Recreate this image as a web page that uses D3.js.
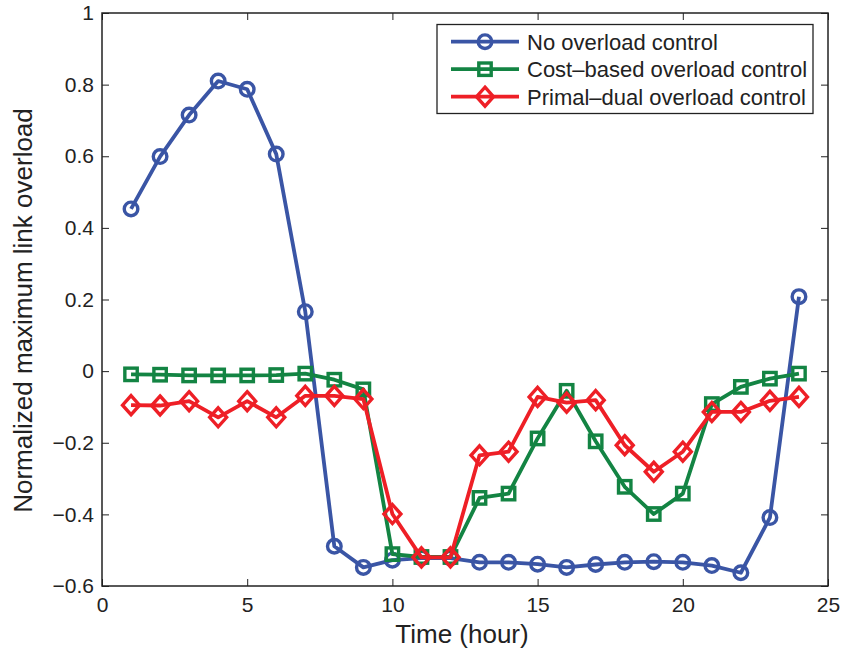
<!DOCTYPE html>
<html><head><meta charset="utf-8">
<script src="https://cdn.jsdelivr.net/npm/d3@7"></script>
<style>body{margin:0;background:#fff}text{font-family:"Liberation Sans",Arial,Helvetica,sans-serif;fill:#222}</style>
</head><body><svg id="c" width="844" height="652"></svg>
<script>
const hours = d3.range(1, 25);
const noControl = [0.453,0.599,0.715,0.810,0.787,0.606,0.166,-0.489,-0.548,-0.528,-0.522,-0.522,-0.534,-0.534,-0.539,-0.548,-0.540,-0.534,-0.532,-0.534,-0.543,-0.563,-0.409,0.208];
const costBased = [-0.009,-0.010,-0.012,-0.012,-0.012,-0.011,-0.007,-0.024,-0.051,-0.511,-0.519,-0.519,-0.354,-0.342,-0.188,-0.055,-0.196,-0.323,-0.399,-0.342,-0.092,-0.044,-0.021,-0.007];
const primalDual = [-0.095,-0.096,-0.084,-0.129,-0.084,-0.129,-0.069,-0.069,-0.078,-0.399,-0.520,-0.520,-0.235,-0.225,-0.072,-0.088,-0.081,-0.207,-0.281,-0.225,-0.114,-0.114,-0.083,-0.072];
const seriesNames = ["No overload control","Cost\u2013based overload control","Primal\u2013dual overload control"];
const xTicks = [0,5,10,15,20,25];
const yTicks = [-0.6,-0.4,-0.2,0,0.2,0.4,0.6,0.8,1];

const colors = ["#3a55a5","#138443","#ee1f26"];
const markers = ["circle","square","diamond"];
const svg = d3.select("#c");
const L=102,R=828,T=13,B=586;
const x = d3.scaleLinear().domain([0,25]).range([L,R]);
const y = d3.scaleLinear().domain([-0.6,1]).range([B,T]);

const fmt = d => d===0?"0":(d===1?"1":d3.format(".1f")(d).replace("-","\u2212"));
const tl = 7;
svg.append("g").attr("transform",`translate(0,${B})`).call(d3.axisBottom(x).tickValues(xTicks).tickSize(-tl).tickPadding(11).tickFormat(d3.format("d")))
  .call(g=>{g.select(".domain").remove();g.selectAll("text").attr("font-size",21).style("fill","#222");});
svg.append("g").attr("transform",`translate(0,${T})`).call(d3.axisTop(x).tickValues(xTicks).tickSize(-tl).tickFormat(""))
  .call(g=>g.select(".domain").remove());
svg.append("g").attr("transform",`translate(${L},0)`).call(d3.axisLeft(y).tickValues(yTicks).tickSize(-tl).tickPadding(8).tickFormat(fmt))
  .call(g=>{g.select(".domain").remove();g.selectAll("text").attr("font-size",21).style("fill","#222");});
svg.append("g").attr("transform",`translate(${R},0)`).call(d3.axisRight(y).tickValues(yTicks).tickSize(-tl).tickFormat(""))
  .call(g=>g.select(".domain").remove());
svg.selectAll(".tick line").attr("stroke","#222").attr("stroke-width",1);
svg.append("rect").attr("x",L).attr("y",T).attr("width",R-L).attr("height",B-T).attr("fill","none").attr("stroke","#222").attr("stroke-width",1.5);

svg.append("text").attr("x",(L+R)/2 - 3).attr("y",643).attr("text-anchor","middle").attr("font-size",26).text("Time (hour)");
svg.append("text").attr("transform",`translate(32,${(T+B)/2+11}) rotate(-90)`).attr("text-anchor","middle").attr("font-size",26).text("Normalized maximum link overload");

function drawMarker(g, type, cx, cy, color){
  if(type==="circle") g.append("circle").attr("cx",cx).attr("cy",cy).attr("r",6.8).attr("fill","none").attr("stroke",color).attr("stroke-width",3.4);
  else if(type==="square") g.append("rect").attr("x",cx-6.2).attr("y",cy-6.2).attr("width",12.4).attr("height",12.4).attr("fill","none").attr("stroke",color).attr("stroke-width",3.4);
  else g.append("path").attr("d",`M${cx},${cy-9.5}L${cx+8.5},${cy}L${cx},${cy+9.5}L${cx-8.5},${cy}Z`).attr("fill","none").attr("stroke",color).attr("stroke-width",3.4);
}
const line = d3.line().x((d,i)=>x(hours[i])).y(d=>y(d));
[noControl,costBased,primalDual].forEach((s,k)=>{
  const g = svg.append("g");
  g.append("path").attr("d",line(s)).attr("fill","none").attr("stroke",colors[k]).attr("stroke-width",3.8).attr("stroke-linejoin","round");
  s.forEach((v,i)=>drawMarker(g,markers[k],x(hours[i]),y(v),colors[k]));
});

const lg = svg.append("g");
lg.append("rect").attr("x",437).attr("y",24.5).attr("width",376).attr("height",89).attr("fill","#fff").attr("stroke","#222").attr("stroke-width",1.3);
seriesNames.forEach((n,k)=>{
  const cy = 41.7 + k*27.5;
  lg.append("line").attr("x1",451).attr("x2",519).attr("y1",cy).attr("y2",cy).attr("stroke",colors[k]).attr("stroke-width",3.8);
  drawMarker(lg,markers[k],485,cy,colors[k]);
  lg.append("text").attr("x",527).attr("y",cy+8).attr("font-size",22).text(n);
});
</script></body></html>
